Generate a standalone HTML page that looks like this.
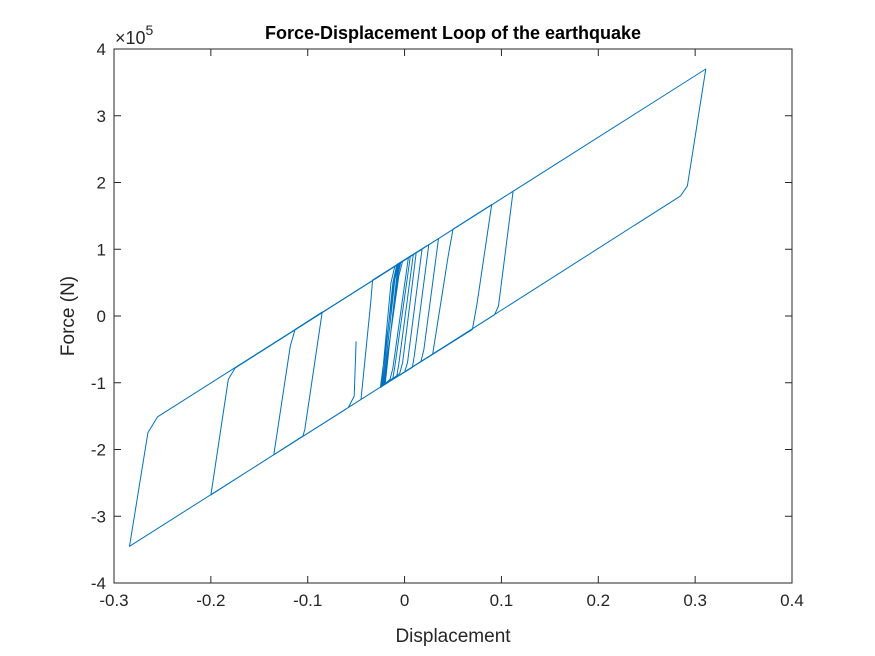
<!DOCTYPE html>
<html><head><meta charset="utf-8"><style>
body{margin:0;background:#fff;}
svg{display:block;font-family:"Liberation Sans",Arial,sans-serif;}
</style></head><body>
<svg id="chart" width="875" height="656">
<rect x="0" y="0" width="875" height="656" fill="#fff"/>
<rect x="114" y="49" width="678" height="534" fill="#fff"/>
<g id="axes"></g>
<polyline id="loop" fill="none" stroke="#0072BD" stroke-width="1" stroke-linejoin="round"/>
<rect x="114" y="49" width="678" height="534" fill="none" stroke="#262626" stroke-width="1"/>
<text x="453" y="39" text-anchor="middle" font-size="18" font-weight="bold" fill="#000">Force-Displacement Loop of the earthquake</text>
<text x="453" y="642" text-anchor="middle" font-size="19" fill="#262626">Displacement</text>
<text transform="translate(74,316) rotate(-90)" text-anchor="middle" font-size="19" fill="#262626">Force (N)</text>
<text x="115" y="44" font-size="18" fill="#262626">×10<tspan dy="-9" font-size="14">5</tspan></text>
</svg>
<script>
const xTicks=[-0.3,-0.2,-0.1,0,0.1,0.2,0.3,0.4];
const xTickLabels=["-0.3","-0.2","-0.1","0","0.1","0.2","0.3","0.4"];
const yTicks=[-4,-3,-2,-1,0,1,2,3,4];
const yTickLabels=["-4","-3","-2","-1","0","1","2","3","4"];
const disp=[-0.05,-0.052,-0.058,-0.062,-0.135,-0.118,-0.113,-0.085,-0.103,-0.105,-0.2,-0.182,-0.175,0.112,0.097,0.093,-0.284,-0.265,-0.255,0.311,0.292,0.285,0.029,0.045,0.05,0.09,0.075,0.07,-0.045,-0.035,-0.033,0.035,0.02,0.017,-0.025,-0.01,-0.007,0.025,0.01,0.008,-0.022,-0.006,-0.002,0.018,0.003,0.0,-0.021,-0.007,-0.004,0.012,-0.002,-0.005,-0.02,-0.008,-0.005,0.009,-0.006,-0.008,-0.022,-0.01,-0.006,0.006,-0.01,-0.012,-0.023,-0.012,-0.008,0.004,-0.012,-0.015,-0.024,-0.014,-0.01,0.002];
const force=[-0.38,-1.2,-1.37,-1.41,-2.08,-0.45,-0.2,0.06,-1.7,-1.8,-2.68,-0.95,-0.78,1.87,0.15,0.02,-3.45,-1.75,-1.51,3.70,1.95,1.80,-0.57,0.9,1.3,1.67,0.2,-0.2,-1.25,0.2,0.54,1.16,-0.5,-0.68,-1.07,0.6,0.78,1.07,-0.6,-0.77,-1.04,0.6,0.82,1.0,-0.7,-0.84,-1.03,0.6,0.8,0.95,-0.7,-0.86,-1.02,0.6,0.79,0.92,-0.72,-0.9,-1.04,0.55,0.78,0.9,-0.75,-0.93,-1.05,0.5,0.77,0.88,-0.78,-0.95,-1.06,0.5,0.75,0.86];
const X0=114,X1=792,Y0=583,Y1=49;
function sx(v){return X0+(v+0.3)/0.7*(X1-X0);}
function sy(v){return Y0-(v+4)/8*(Y0-Y1);}
const ns="http://www.w3.org/2000/svg";
const ax=document.getElementById('axes');
xTicks.forEach((t,i)=>{
  const x=sx(t);
  const l1=document.createElementNS(ns,'line');
  l1.setAttribute('x1',x);l1.setAttribute('x2',x);l1.setAttribute('y1',Y0);l1.setAttribute('y2',Y0-7);
  l1.setAttribute('stroke','#262626');
  
  
  ax.appendChild(l1);
  const l2=document.createElementNS(ns,'line');
  l2.setAttribute('x1',x);l2.setAttribute('x2',x);l2.setAttribute('y1',Y1);l2.setAttribute('y2',Y1+7);
  l2.setAttribute('stroke','#262626');
  
  
  ax.appendChild(l2);
  const tx=document.createElementNS(ns,'text');
  tx.setAttribute('x',x);tx.setAttribute('y',Y0+23);tx.setAttribute('text-anchor','middle');
  tx.setAttribute('font-size','17');tx.setAttribute('fill','#262626');
  tx.textContent=xTickLabels[i];
  
  
  ax.appendChild(tx);
});
yTicks.forEach((t,i)=>{
  const y=sy(t);
  const l1=document.createElementNS(ns,'line');
  l1.setAttribute('x1',X0);l1.setAttribute('x2',X0+7);l1.setAttribute('y1',y);l1.setAttribute('y2',y);
  l1.setAttribute('stroke','#262626');
  
  
  ax.appendChild(l1);
  const l2=document.createElementNS(ns,'line');
  l2.setAttribute('x1',X1);l2.setAttribute('x2',X1-7);l2.setAttribute('y1',y);l2.setAttribute('y2',y);
  l2.setAttribute('stroke','#262626');
  
  
  ax.appendChild(l2);
  const tx=document.createElementNS(ns,'text');
  tx.setAttribute('x',X0-8);tx.setAttribute('y',y+6);tx.setAttribute('text-anchor','end');
  tx.setAttribute('font-size','17');tx.setAttribute('fill','#262626');
  tx.textContent=yTickLabels[i];
  
  
  ax.appendChild(tx);
});
document.getElementById('loop').setAttribute('points',disp.map((d,i)=>sx(d).toFixed(1)+','+sy(force[i]).toFixed(1)).join(' '));
</script>
</body></html>
